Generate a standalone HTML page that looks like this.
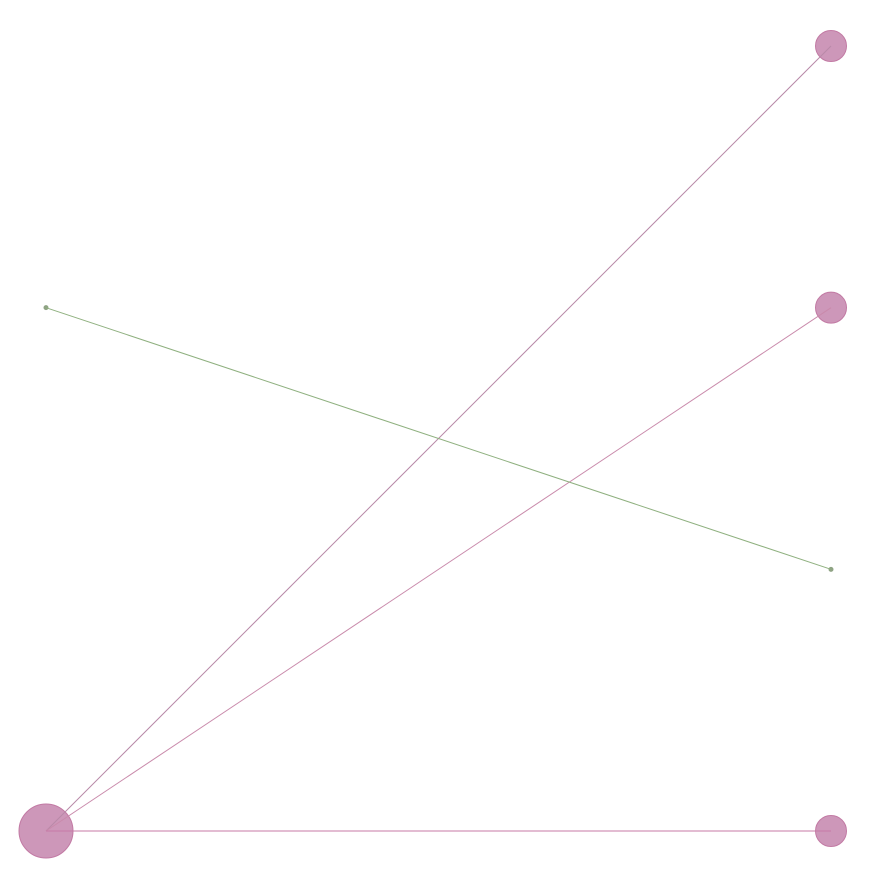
<!DOCTYPE html>
<html><head><meta charset="utf-8"><style>html,body{margin:0;background:#fff}svg{display:block}</style></head>
<body>
<svg id="chart" width="878" height="878" xmlns="http://www.w3.org/2000/svg"></svg>
<script>
const nodeNames = ["src-a","src-b","dst-1","dst-2","dst-3","dst-4"];
const nodeCol = [0,0,1,1,1,1];
const nodeRow = [3,1,0,1,3,2];
const nodeSize = [27,2,15.5,15.5,15.5,2];
const nodeColor = ["#cd97b9","#8fa384","#cd97b9","#cd97b9","#cd97b9","#8fa384"];
const linkSource = [0,0,0,1];
const linkTarget = [2,3,4,5];
const linkColor = ["#b889a8","#c98aab","#c77aa6","#8fb07f"];

const svg = document.getElementById('chart');
const NS = 'http://www.w3.org/2000/svg';
const xScale = c => 46 + c * (831 - 46);
const yScale = r => 46 + r * (831 - 46) / 3;

nodeNames.forEach((n, i) => {
  const c = document.createElementNS(NS, 'circle');
  c.setAttribute('cx', xScale(nodeCol[i]));
  c.setAttribute('cy', yScale(nodeRow[i]));
  c.setAttribute('r', nodeSize[i]);
  c.setAttribute('fill', nodeColor[i]);
  c.setAttribute('stroke', nodeSize[i] > 3 ? '#c27aa4' : nodeColor[i]);
  c.setAttribute('stroke-width', '1');
  
  
  svg.appendChild(c);
});
linkSource.forEach((s, i) => {
  const t = linkTarget[i];
  const l = document.createElementNS(NS, 'line');
  l.setAttribute('x1', xScale(nodeCol[s]));
  l.setAttribute('y1', yScale(nodeRow[s]));
  l.setAttribute('x2', xScale(nodeCol[t]));
  l.setAttribute('y2', yScale(nodeRow[t]));
  l.setAttribute('stroke', linkColor[i]);
  l.setAttribute('stroke-width', '1');
  
  
  svg.appendChild(l);
});
</script>
</body></html>
